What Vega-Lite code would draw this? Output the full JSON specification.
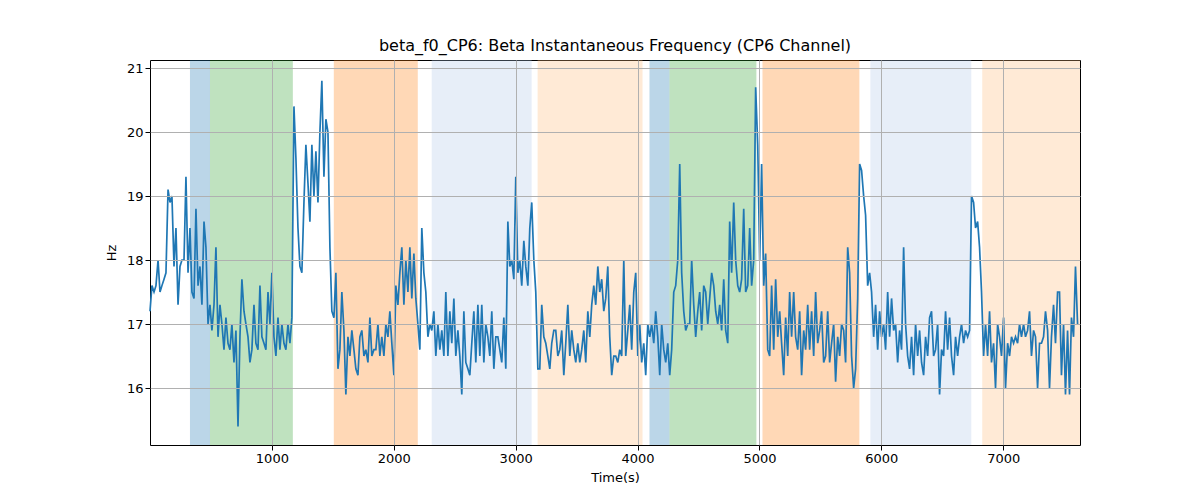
{
"$schema":"https://vega.github.io/schema/vega-lite/v6.json",
"width":930,"height":385,"autosize":"none",
"padding":{"left":150,"top":60,"right":120,"bottom":55},
"background":"white",
"config":{"view":{"stroke":"black","strokeWidth":1},"font":"DejaVu Sans"},
"title":{"text":"beta_f0_CP6: Beta Instantaneous Frequency (CP6 Channel)","fontSize":16,"fontWeight":"normal","font":"DejaVu Sans","offset":6,"color":"black"},
"datasets":{
"spans":[
{"a":328,"b":492,"c":"b"},{"a":492,"b":1172,"c":"g"},{"a":1508,"b":2197,"c":"o"},{"a":2311,"b":3131,"c":"lb"},{"a":3180,"b":4041,"c":"lo"},
{"a":4098,"b":4262,"c":"b"},{"a":4262,"b":4975,"c":"g"},{"a":5025,"b":5820,"c":"o"},{"a":5910,"b":6738,"c":"lb"},{"a":6828,"b":7630,"c":"lo"}],
"line":[
{"t":0,"v":17.2},{"t":16,"v":17.6},{"t":33,"v":17.5},{"t":49,"v":17.6},{"t":66,"v":18.0},{"t":82,"v":17.5},{"t":98,"v":17.6},{"t":115,"v":17.7},{"t":131,"v":17.8},{"t":148,"v":19.1},
{"t":164,"v":18.9},{"t":180,"v":19.0},{"t":197,"v":17.9},{"t":213,"v":18.5},{"t":230,"v":17.3},{"t":246,"v":17.9},{"t":262,"v":18.0},{"t":279,"v":18.0},{"t":295,"v":19.3},{"t":312,"v":17.8},
{"t":328,"v":18.5},{"t":344,"v":17.5},{"t":361,"v":17.4},{"t":377,"v":18.8},{"t":394,"v":17.6},{"t":410,"v":17.9},{"t":426,"v":17.3},{"t":443,"v":18.6},{"t":459,"v":18.2},{"t":476,"v":17.0},
{"t":492,"v":17.3},{"t":508,"v":16.9},{"t":525,"v":17.3},{"t":541,"v":18.2},{"t":558,"v":16.8},{"t":574,"v":17.3},{"t":590,"v":17.0},{"t":607,"v":16.6},{"t":623,"v":17.1},{"t":640,"v":16.7},
{"t":656,"v":16.6},{"t":672,"v":17.0},{"t":689,"v":16.4},{"t":705,"v":16.9},{"t":722,"v":15.4},{"t":738,"v":16.8},{"t":754,"v":17.7},{"t":771,"v":17.2},{"t":787,"v":17.0},{"t":804,"v":16.8},
{"t":820,"v":16.4},{"t":836,"v":16.6},{"t":853,"v":17.3},{"t":869,"v":16.7},{"t":886,"v":16.6},{"t":902,"v":17.6},{"t":918,"v":16.8},{"t":935,"v":16.7},{"t":951,"v":16.6},{"t":968,"v":17.5},
{"t":984,"v":17.0},{"t":1000,"v":17.8},{"t":1017,"v":16.8},{"t":1033,"v":16.5},{"t":1050,"v":17.1},{"t":1066,"v":16.6},{"t":1082,"v":17.0},{"t":1099,"v":16.7},{"t":1115,"v":16.6},{"t":1132,"v":17.0},
{"t":1148,"v":16.7},{"t":1164,"v":17.1},{"t":1181,"v":20.4},{"t":1197,"v":19.6},{"t":1214,"v":18.5},{"t":1230,"v":17.9},{"t":1246,"v":17.8},{"t":1263,"v":18.9},{"t":1279,"v":19.8},{"t":1296,"v":19.2},
{"t":1312,"v":18.6},{"t":1328,"v":19.8},{"t":1345,"v":19.0},{"t":1361,"v":19.7},{"t":1378,"v":18.9},{"t":1394,"v":20.0},{"t":1410,"v":20.8},{"t":1427,"v":19.3},{"t":1443,"v":20.2},{"t":1460,"v":20.0},
{"t":1476,"v":18.2},{"t":1492,"v":17.2},{"t":1509,"v":17.1},{"t":1525,"v":17.8},{"t":1542,"v":16.3},{"t":1558,"v":16.6},{"t":1574,"v":17.5},{"t":1591,"v":16.9},{"t":1607,"v":15.9},{"t":1624,"v":16.8},
{"t":1640,"v":16.5},{"t":1656,"v":16.9},{"t":1673,"v":16.6},{"t":1689,"v":16.3},{"t":1706,"v":16.2},{"t":1722,"v":16.8},{"t":1738,"v":16.9},{"t":1755,"v":16.5},{"t":1771,"v":16.6},{"t":1788,"v":16.4},
{"t":1804,"v":17.1},{"t":1820,"v":16.5},{"t":1837,"v":16.6},{"t":1853,"v":16.6},{"t":1870,"v":17.0},{"t":1886,"v":16.5},{"t":1902,"v":16.8},{"t":1919,"v":16.5},{"t":1935,"v":17.0},{"t":1952,"v":16.8},
{"t":1968,"v":17.2},{"t":1984,"v":16.7},{"t":2001,"v":16.2},{"t":2017,"v":17.6},{"t":2034,"v":17.3},{"t":2050,"v":17.8},{"t":2066,"v":18.2},{"t":2083,"v":17.3},{"t":2099,"v":18.0},{"t":2116,"v":17.5},
{"t":2132,"v":18.2},{"t":2148,"v":17.4},{"t":2165,"v":18.1},{"t":2181,"v":17.4},{"t":2198,"v":17.0},{"t":2214,"v":16.6},{"t":2230,"v":18.5},{"t":2247,"v":17.8},{"t":2263,"v":17.5},{"t":2280,"v":16.8},
{"t":2296,"v":17.0},{"t":2312,"v":16.9},{"t":2329,"v":17.2},{"t":2345,"v":16.5},{"t":2362,"v":17.0},{"t":2378,"v":16.6},{"t":2394,"v":16.9},{"t":2411,"v":16.5},{"t":2427,"v":17.5},{"t":2444,"v":16.5},
{"t":2460,"v":17.2},{"t":2476,"v":16.7},{"t":2493,"v":17.4},{"t":2509,"v":16.5},{"t":2526,"v":16.9},{"t":2542,"v":16.5},{"t":2558,"v":15.9},{"t":2575,"v":17.2},{"t":2591,"v":16.4},{"t":2608,"v":16.3},
{"t":2624,"v":16.2},{"t":2640,"v":16.7},{"t":2657,"v":17.2},{"t":2673,"v":16.4},{"t":2690,"v":17.3},{"t":2706,"v":16.5},{"t":2722,"v":17.3},{"t":2739,"v":16.4},{"t":2755,"v":17.0},{"t":2772,"v":16.8},
{"t":2788,"v":16.5},{"t":2804,"v":17.2},{"t":2821,"v":16.3},{"t":2837,"v":16.8},{"t":2854,"v":16.8},{"t":2870,"v":16.6},{"t":2886,"v":16.4},{"t":2903,"v":17.1},{"t":2919,"v":16.3},{"t":2936,"v":18.6},
{"t":2952,"v":17.9},{"t":2968,"v":18.0},{"t":2985,"v":17.7},{"t":3001,"v":19.3},{"t":3018,"v":17.8},{"t":3034,"v":18.0},{"t":3050,"v":17.6},{"t":3067,"v":18.3},{"t":3083,"v":17.9},{"t":3100,"v":17.6},
{"t":3116,"v":18.5},{"t":3132,"v":18.9},{"t":3149,"v":18.0},{"t":3165,"v":17.5},{"t":3182,"v":16.3},{"t":3198,"v":16.3},{"t":3214,"v":17.3},{"t":3231,"v":16.8},{"t":3247,"v":16.7},{"t":3264,"v":16.5},
{"t":3280,"v":16.3},{"t":3296,"v":16.7},{"t":3313,"v":16.9},{"t":3329,"v":16.9},{"t":3346,"v":16.5},{"t":3362,"v":16.6},{"t":3378,"v":16.9},{"t":3395,"v":16.2},{"t":3411,"v":16.7},{"t":3428,"v":17.3},
{"t":3444,"v":16.5},{"t":3460,"v":16.9},{"t":3477,"v":16.6},{"t":3493,"v":16.4},{"t":3510,"v":16.7},{"t":3526,"v":16.4},{"t":3542,"v":16.6},{"t":3559,"v":16.9},{"t":3575,"v":16.4},{"t":3592,"v":17.2},
{"t":3608,"v":16.8},{"t":3624,"v":17.3},{"t":3641,"v":17.6},{"t":3657,"v":17.3},{"t":3674,"v":17.9},{"t":3690,"v":17.5},{"t":3706,"v":17.7},{"t":3723,"v":17.2},{"t":3739,"v":17.4},{"t":3756,"v":17.9},
{"t":3772,"v":16.8},{"t":3788,"v":16.2},{"t":3805,"v":16.5},{"t":3821,"v":16.5},{"t":3838,"v":16.4},{"t":3854,"v":16.6},{"t":3870,"v":16.5},{"t":3887,"v":18.0},{"t":3903,"v":16.5},{"t":3920,"v":16.9},
{"t":3936,"v":17.3},{"t":3952,"v":16.6},{"t":3969,"v":17.5},{"t":3985,"v":17.8},{"t":4002,"v":16.5},{"t":4018,"v":17.0},{"t":4034,"v":16.4},{"t":4051,"v":16.7},{"t":4067,"v":16.2},{"t":4084,"v":17.0},
{"t":4100,"v":16.8},{"t":4116,"v":17.0},{"t":4133,"v":16.7},{"t":4149,"v":17.2},{"t":4166,"v":16.8},{"t":4182,"v":16.2},{"t":4198,"v":17.0},{"t":4215,"v":16.6},{"t":4231,"v":16.4},{"t":4248,"v":16.7},
{"t":4264,"v":16.2},{"t":4280,"v":16.6},{"t":4297,"v":17.5},{"t":4313,"v":17.6},{"t":4330,"v":18.0},{"t":4346,"v":19.5},{"t":4362,"v":17.8},{"t":4379,"v":17.2},{"t":4395,"v":16.9},{"t":4412,"v":17.0},
{"t":4428,"v":17.0},{"t":4444,"v":18.0},{"t":4461,"v":17.3},{"t":4477,"v":16.8},{"t":4494,"v":17.2},{"t":4510,"v":17.5},{"t":4526,"v":16.9},{"t":4543,"v":17.6},{"t":4559,"v":17.5},{"t":4576,"v":17.0},
{"t":4592,"v":17.4},{"t":4608,"v":17.8},{"t":4625,"v":17.6},{"t":4641,"v":17.2},{"t":4658,"v":17.0},{"t":4674,"v":17.3},{"t":4690,"v":16.9},{"t":4707,"v":17.7},{"t":4723,"v":16.9},{"t":4740,"v":16.7},
{"t":4756,"v":18.6},{"t":4772,"v":17.8},{"t":4789,"v":18.9},{"t":4805,"v":18.0},{"t":4822,"v":17.6},{"t":4838,"v":17.5},{"t":4854,"v":17.7},{"t":4871,"v":18.8},{"t":4887,"v":17.5},{"t":4904,"v":17.6},
{"t":4920,"v":18.5},{"t":4936,"v":17.6},{"t":4953,"v":18.0},{"t":4969,"v":20.7},{"t":4986,"v":19.8},{"t":5002,"v":18.0},{"t":5018,"v":19.5},{"t":5035,"v":17.6},{"t":5051,"v":18.1},{"t":5068,"v":16.6},
{"t":5084,"v":16.5},{"t":5100,"v":17.6},{"t":5117,"v":16.6},{"t":5133,"v":17.7},{"t":5150,"v":16.8},{"t":5166,"v":17.2},{"t":5182,"v":16.7},{"t":5199,"v":16.2},{"t":5215,"v":17.1},{"t":5232,"v":16.5},
{"t":5248,"v":17.5},{"t":5264,"v":16.8},{"t":5281,"v":17.5},{"t":5297,"v":16.8},{"t":5314,"v":16.6},{"t":5330,"v":17.2},{"t":5346,"v":16.2},{"t":5363,"v":16.9},{"t":5379,"v":16.6},{"t":5396,"v":17.3},
{"t":5412,"v":16.6},{"t":5428,"v":17.2},{"t":5445,"v":16.5},{"t":5461,"v":17.5},{"t":5478,"v":16.7},{"t":5494,"v":16.9},{"t":5510,"v":17.2},{"t":5527,"v":16.4},{"t":5543,"v":16.5},{"t":5560,"v":17.2},
{"t":5576,"v":16.4},{"t":5592,"v":16.7},{"t":5609,"v":17.0},{"t":5625,"v":16.1},{"t":5642,"v":16.8},{"t":5658,"v":16.5},{"t":5674,"v":17.0},{"t":5691,"v":16.9},{"t":5707,"v":16.4},{"t":5724,"v":18.2},
{"t":5740,"v":17.8},{"t":5756,"v":16.5},{"t":5773,"v":16.0},{"t":5789,"v":16.3},{"t":5806,"v":17.4},{"t":5822,"v":19.5},{"t":5838,"v":19.4},{"t":5855,"v":19.0},{"t":5871,"v":18.7},{"t":5888,"v":17.6},
{"t":5904,"v":17.8},{"t":5920,"v":17.5},{"t":5937,"v":16.8},{"t":5953,"v":17.3},{"t":5970,"v":16.6},{"t":5986,"v":17.2},{"t":6002,"v":16.8},{"t":6019,"v":17.0},{"t":6035,"v":16.6},{"t":6052,"v":17.5},
{"t":6068,"v":16.8},{"t":6084,"v":17.4},{"t":6101,"v":16.9},{"t":6117,"v":17.0},{"t":6134,"v":16.4},{"t":6150,"v":16.9},{"t":6166,"v":16.6},{"t":6183,"v":18.2},{"t":6199,"v":17.0},{"t":6216,"v":16.5},
{"t":6232,"v":16.3},{"t":6248,"v":16.8},{"t":6265,"v":16.2},{"t":6281,"v":17.0},{"t":6298,"v":16.5},{"t":6314,"v":16.9},{"t":6330,"v":16.4},{"t":6347,"v":16.2},{"t":6363,"v":16.8},{"t":6380,"v":16.5},
{"t":6396,"v":17.1},{"t":6412,"v":17.2},{"t":6429,"v":16.5},{"t":6445,"v":16.6},{"t":6462,"v":17.0},{"t":6478,"v":15.9},{"t":6494,"v":16.6},{"t":6511,"v":16.5},{"t":6527,"v":17.2},{"t":6544,"v":16.6},
{"t":6560,"v":17.1},{"t":6576,"v":16.5},{"t":6593,"v":16.2},{"t":6609,"v":16.8},{"t":6626,"v":16.5},{"t":6642,"v":16.8},{"t":6658,"v":17.0},{"t":6675,"v":16.7},{"t":6691,"v":16.9},{"t":6708,"v":16.8},
{"t":6724,"v":16.9},{"t":6740,"v":19.0},{"t":6757,"v":18.9},{"t":6773,"v":18.5},{"t":6790,"v":18.6},{"t":6806,"v":18.2},{"t":6822,"v":17.5},{"t":6839,"v":16.5},{"t":6855,"v":17.0},{"t":6872,"v":16.5},
{"t":6888,"v":17.2},{"t":6904,"v":16.4},{"t":6921,"v":16.7},{"t":6937,"v":16.0},{"t":6954,"v":17.0},{"t":6970,"v":16.8},{"t":6986,"v":16.5},{"t":7003,"v":17.1},{"t":7019,"v":16.0},{"t":7036,"v":16.7},
{"t":7052,"v":16.5},{"t":7068,"v":16.8},{"t":7085,"v":16.7},{"t":7101,"v":16.8},{"t":7118,"v":16.7},{"t":7134,"v":17.0},{"t":7150,"v":16.8},{"t":7167,"v":17.0},{"t":7183,"v":16.8},{"t":7200,"v":16.9},
{"t":7216,"v":17.2},{"t":7232,"v":16.5},{"t":7249,"v":16.9},{"t":7265,"v":16.8},{"t":7282,"v":16.0},{"t":7298,"v":16.7},{"t":7314,"v":16.7},{"t":7331,"v":16.8},{"t":7347,"v":17.2},{"t":7364,"v":16.9},
{"t":7380,"v":16.0},{"t":7396,"v":16.8},{"t":7413,"v":17.3},{"t":7429,"v":16.7},{"t":7446,"v":17.5},{"t":7462,"v":17.5},{"t":7478,"v":16.2},{"t":7495,"v":17.0},{"t":7511,"v":15.9},{"t":7528,"v":16.9},
{"t":7544,"v":15.9},{"t":7560,"v":17.1},{"t":7577,"v":16.8},{"t":7593,"v":17.9},{"t":7610,"v":17.0}]
},
"layer":[
{"data":{"name":"spans"},"mark":{"type":"rect","opacity":0.3},
"encoding":{
"x":{"field":"a","type":"quantitative","scale":{"domain":[0,7630],"nice":false,"zero":false},
"axis":{"title":"Time(s)","titleFontSize":13,"titleFontWeight":"normal","titleColor":"black","labelFontSize":13,"labelColor":"black","values":[1000,2000,3000,4000,5000,6000,7000],"format":"d","grid":true,"gridColor":"#b0b0b0","zindex":1,"domain":false,"tickColor":"black","titlePadding":6}},
"x2":{"field":"b"},
"color":{"field":"c","type":"nominal","legend":null,"scale":{"domain":["b","g","o","lb","lo"],"range":["#1f77b4","#2ca02c","#ff7f0e","#aec7e8","#ffbb78"]}}}},
{"data":{"name":"line"},"mark":{"type":"line","color":"#1f77b4","strokeWidth":1.7},
"encoding":{
"x":{"field":"t","type":"quantitative"},
"y":{"field":"v","type":"quantitative","scale":{"domain":[15.11,21.125],"nice":false,"zero":false},
"axis":{"title":"Hz","titleFontSize":13,"titleFontWeight":"normal","titleColor":"black","labelFontSize":13,"labelColor":"black","values":[16,17,18,19,20,21],"grid":true,"gridColor":"#b0b0b0","zindex":1,"domain":false,"tickColor":"black","titlePadding":8}}}}
]
}
